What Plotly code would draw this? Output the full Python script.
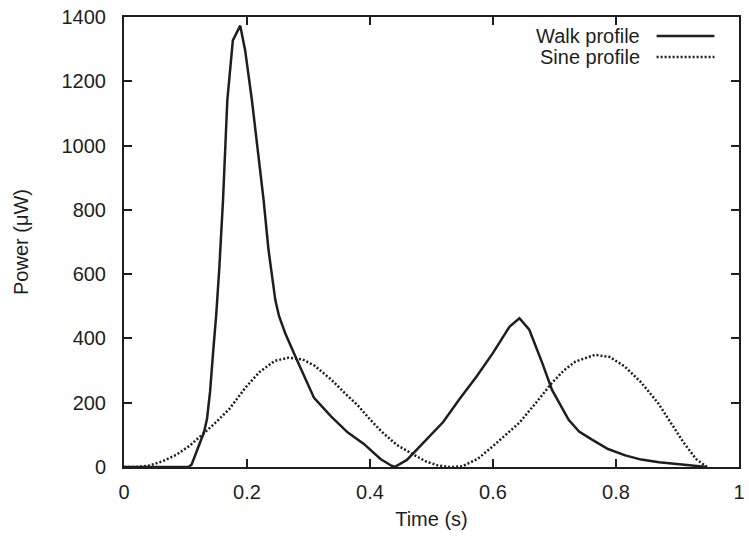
import plotly.graph_objects as go

# Walk profile (solid)
walk_t = [0.0, 0.105, 0.11, 0.12, 0.13, 0.135, 0.14, 0.145, 0.15, 0.155, 0.161, 0.168,
          0.177, 0.189, 0.197, 0.208, 0.218, 0.227, 0.235, 0.246, 0.252, 0.262,
          0.281, 0.309, 0.337, 0.364, 0.39, 0.417, 0.435, 0.44, 0.46, 0.476, 0.50, 0.519,
          0.545, 0.573, 0.60, 0.627, 0.643, 0.659, 0.68, 0.696, 0.723, 0.74, 0.761, 0.787,
          0.815, 0.841, 0.87, 0.895, 0.92, 0.948]
walk_p = [0, 0, 8, 55, 108, 150, 235, 360, 475, 620, 830, 1141,
          1327, 1373, 1296, 1141, 985, 830, 675, 520, 470, 417,
          334, 215, 157, 107, 72, 25, 4, 0, 22, 54, 100, 140,
          210, 281, 355, 437, 463, 427, 324, 240, 147, 110, 85, 56,
          36, 23, 15, 10, 5, 0]

# Sine profile (dotted)
sine_t = [0.0, 0.02, 0.04, 0.063, 0.085, 0.106, 0.131, 0.15, 0.171, 0.198, 0.22, 0.245,
          0.267, 0.29, 0.31, 0.337, 0.36, 0.38, 0.40, 0.42, 0.444, 0.466, 0.49, 0.51,
          0.53, 0.55, 0.575, 0.60, 0.62, 0.643, 0.67, 0.696, 0.715, 0.734, 0.766, 0.79,
          0.814, 0.84, 0.868, 0.89, 0.91, 0.93, 0.948]
sine_p = [0, 0, 4, 18, 38, 65, 107, 140, 180, 248, 295, 330,
          340, 335, 315, 272, 228, 192, 148, 108, 68, 44, 18, 5,
          0, 2, 25, 65, 98, 138, 200, 262, 300, 328, 349, 342,
          313, 265, 200, 135, 76, 25, 0]

ink = "#1e1e1e"
font_family = "Liberation Sans, Arial, sans-serif"
fs = 20

fig = go.Figure()
fig.add_trace(go.Scatter(x=walk_t, y=walk_p, mode="lines", name="Walk profile",
                         line=dict(color=ink, width=2.5), showlegend=False))
fig.add_trace(go.Scatter(x=sine_t, y=sine_p, mode="lines", name="Sine profile",
                         line=dict(color=ink, width=2.5, dash="2px,2px"), showlegend=False))

axis_common = dict(
    showline=True, linecolor=ink, linewidth=2, mirror="ticks",
    ticks="inside", ticklen=8, tickwidth=2, tickcolor=ink,
    showgrid=False, zeroline=False,
    tickfont=dict(family=font_family, size=fs, color=ink),
)

fig.update_layout(
    width=749, height=538,
    margin=dict(l=124, r=4, t=17, b=71),
    plot_bgcolor="white", paper_bgcolor="white",
    font=dict(family=font_family, size=fs, color=ink),
    xaxis=dict(range=[0, 1], tickvals=[0, 0.2, 0.4, 0.6, 0.8, 1],
               ticktext=["0", "0.2", "0.4", "0.6", "0.8", "1"],
               title=dict(text="Time (s)", standoff=10,
                          font=dict(family=font_family, size=fs, color=ink)),
               ticklabelstandoff=6, **axis_common),
    yaxis=dict(range=[0, 1400], tickvals=[0, 200, 400, 600, 800, 1000, 1200, 1400],
               title=dict(text="Power (μW)", standoff=28,
                          font=dict(family=font_family, size=fs, color=ink)),
               ticklabelstandoff=12, **axis_common),
    showlegend=False,
)

# Manual legend (text left of sample line, gnuplot style)
legend_items = [("Walk profile", "solid", 0.958), ("Sine profile", "2px,2px", 0.911)]
for label, dash, yp in legend_items:
    fig.add_annotation(x=0.842, y=yp, xref="paper", yref="paper", text=label,
                       showarrow=False, xanchor="right", yanchor="middle",
                       font=dict(family=font_family, size=fs, color=ink))
    fig.add_shape(type="line", xref="paper", yref="paper", x0=0.866, x1=0.960,
                  y0=yp, y1=yp, line=dict(color=ink, width=2.5, dash=dash))

fig.write_html("out.html")
